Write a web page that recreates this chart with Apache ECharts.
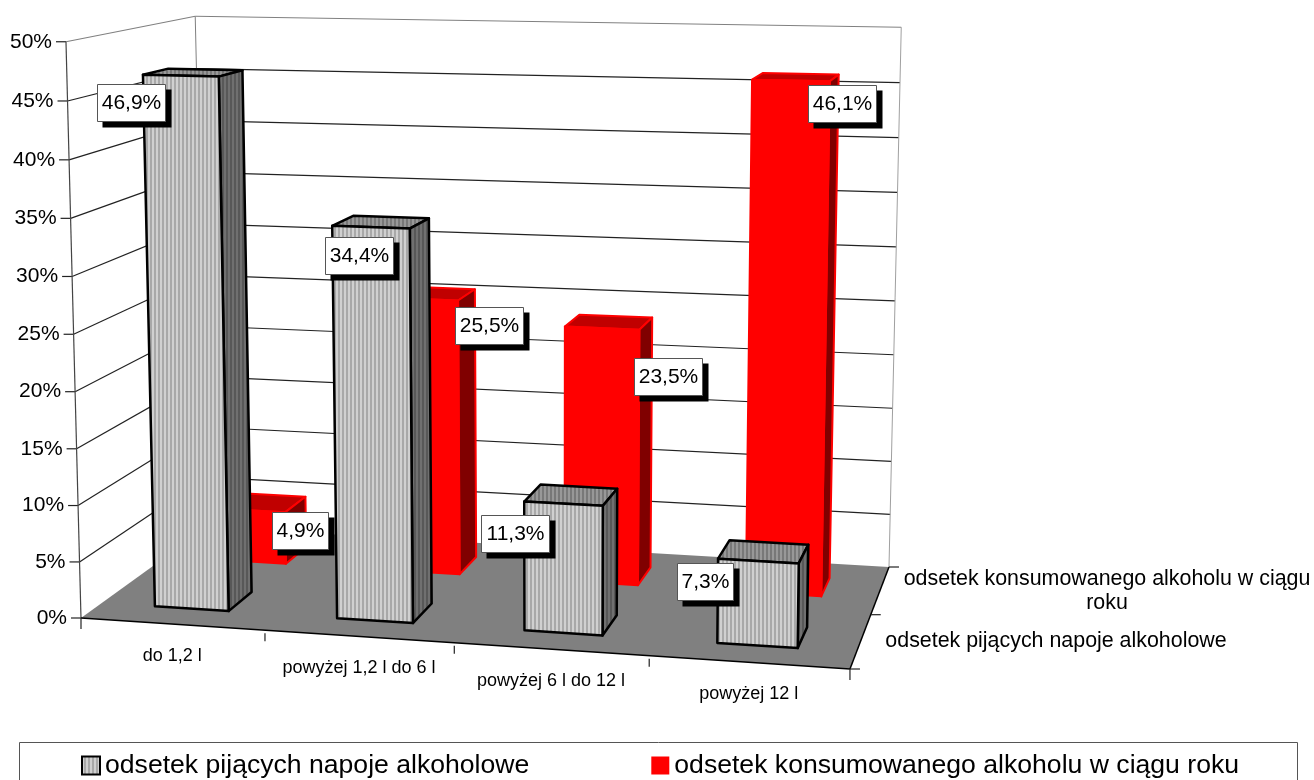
<!DOCTYPE html>
<html>
<head>
<meta charset="utf-8">
<style>
html, body { margin: 0; padding: 0; background: #fff; overflow: hidden; }
#main { width: 1314px; height: 780px; }
</style>
<script src="https://cdn.jsdelivr.net/npm/echarts@6/dist/echarts.min.js"></script>
</head>
<body>
<div id="main"></div>
<script>
var categories = ['do 1,2 l', 'powyżej 1,2 l do 6 l', 'powyżej 6 l do 12 l', 'powyżej 12 l'];
var seriesNames = ['odsetek pijących napoje alkoholowe', 'odsetek konsumowanego alkoholu w ciągu roku'];
var drinkers = [46.9, 34.4, 11.3, 7.3];
var consumed = [4.9, 25.5, 23.5, 46.1];
var yTicks = [0, 5, 10, 15, 20, 25, 30, 35, 40, 45, 50];

// hand placed data labels in the original, offset from the top of each bar
var drinkerLabelShift = [[-62.5, 30], [-22, 33], [-56, 38], [-58.6, 30]];
var consumedLabelShift = [[39, 28], [58.5, 32.5], [58.6, 54], [45.8, 26]];

var FONT = '"Liberation Sans", Arial, sans-serif';
var BAR_RATIO = 0.408;
var DEPTH = [[0.15, 0.343], [0.65, 0.843]];

// perspective of the 3d box: u along categories, w into the depth, h up
function pt(u, w, h) {
    var den = 1 - 0.05655 * u + 0.1308 * w - 0.03 * h;
    return [
        (720.9 * u + 153.1 * w - 17 * h + 81) / den + (5 * u - 2) * w * h,
        (13.17 * u - 22.07 * w - 577.5 * h + 618) / den - (0.5 + 2.5 * u) * w * h
    ];
}

function stripes(light, dark) {
    var c = document.createElement('canvas');
    c.width = 4;
    c.height = 4;
    var ctx = c.getContext('2d');
    ctx.fillStyle = light;
    ctx.fillRect(0, 0, 4, 4);
    ctx.fillStyle = dark;
    ctx.fillRect(2, 0, 2, 4);
    return { image: c, repeat: 'repeat' };
}

var frontFill = stripes('#d0d0d0', '#a8a8a8');
var topFill = stripes('#989898', '#787878');
var sideFill = stripes('#707070', '#585858');

function poly(points, style) {
    return { type: 'polygon', shape: { points: points }, style: style };
}

function line(a, b, color, width) {
    return {
        type: 'line',
        shape: { x1: a[0], y1: a[1], x2: b[0], y2: b[1] },
        style: { stroke: color, lineWidth: width || 1, fill: null }
    };
}

function text(str, x, y, size, align) {
    return {
        type: 'text',
        x: x,
        y: y,
        style: {
            text: str,
            fill: '#000',
            font: size + 'px ' + FONT,
            align: align || 'center',
            verticalAlign: 'middle',
            lineHeight: 24
        }
    };
}

function toBox(api, params, i, v) {
    var cs = params.coordSys;
    var p = api.coord([i, v]);
    return {
        u: (p[0] - cs.x) / cs.width,
        h: (cs.y + cs.height - p[1]) / cs.height,
        half: api.size([1, 0])[0] * BAR_RATIO / 2 / cs.width
    };
}

function renderFrame(params, api) {
    var kids = [];
    // white walls, then the floor
    kids.push(poly([pt(0, 0, 0), pt(0, 1, 0), pt(0, 1, 1), pt(0, 0, 1)], { fill: '#fff' }));
    kids.push(poly([pt(0, 1, 0), pt(1, 1, 0), pt(1, 1, 1), pt(0, 1, 1)], { fill: '#fff' }));

    yTicks.forEach(function (t) {
        var h = toBox(api, params, 0, t).h;
        var grey = t === 50 ? '#808080' : '#222';
        if (t > 0) {
            kids.push(line(pt(0, 0, h), pt(0, 1, h), grey, 1.2));
            kids.push(line(pt(0, 1, h), pt(1, 1, h), grey, 1.2));
        }
        var a = pt(0, 0, h);
        kids.push(line([a[0] - 10, a[1]], a, '#222', 1.2));
        kids.push(text(t + '%', a[0] - 14, a[1], 21, 'right'));
    });

    kids.push(poly([pt(0, 0, 0), pt(1, 0, 0), pt(1, 1, 0), pt(0, 1, 0)], { fill: '#808080' }));
    kids.push(line(pt(0, 1, 0), pt(0, 1, 1), '#808080'));
    kids.push(line(pt(1, 1, 0), pt(1, 1, 1), '#a0a0a0'));
    kids.push(line(pt(0, 0, 0), pt(0, 0, 1), '#444', 1.2));
    kids.push(line(pt(0, 0, 0), pt(1, 0, 0), '#000', 1.5));
    kids.push(line(pt(1, 0, 0), pt(1, 1, 0), '#000', 1.5));

    // category ticks and labels on the front edge
    for (var i = 0; i <= categories.length; i++) {
        var a = pt(i / categories.length, 0, 0);
        kids.push(line(i === 0 || i === categories.length ? a : [a[0], a[1] + 3], [a[0], a[1] + 11], '#222', 1.2));
    }
    categories.forEach(function (c, i) {
        var p = pt(toBox(api, params, i, 0).u, 0, 0);
        kids.push(text(c, p[0], p[1] + 32, 18));
    });

    // depth ticks and series names on the right edge
    [0, 0.5, 1].forEach(function (w) {
        var a = pt(1, w, 0);
        kids.push(line(a, [a[0] + 10, a[1]], '#222', 1.2));
    });
    kids.push(text(seriesNames[0], 1056, 641, 21.4));
    kids.push(text(seriesNames[1].replace(' roku', '\nroku'), 1107, 591, 21.4));
    return { type: 'group', children: kids };
}

function renderBar(d) {
    return function (params, api) {
        var b = toBox(api, params, api.value(0), api.value(1));
        var u0 = b.u - b.half, u1 = b.u + b.half, w0 = d.w[0], w1 = d.w[1], h = b.h;
        function face(points, fill) {
            return poly(points, { fill: fill, stroke: d.stroke, lineWidth: d.lineWidth, lineJoin: 'round' });
        }
        return {
            type: 'group',
            children: [
                face([pt(u0, w0, h), pt(u1, w0, h), pt(u1, w1, h), pt(u0, w1, h)], d.top),
                face([pt(u1, w0, 0), pt(u1, w1, 0), pt(u1, w1, h), pt(u1, w0, h)], d.side),
                face([pt(u0, w0, 0), pt(u1, w0, 0), pt(u1, w0, h), pt(u0, w0, h)], d.front)
            ]
        };
    };
}

function renderLabels(w, shift) {
    return function (params, api) {
        var i = api.value(0), v = api.value(1);
        var b = toBox(api, params, i, v);
        var p = pt(b.u, (w[0] + w[1]) / 2, b.h);
        var str = v.toFixed(1).replace('.', ',') + '%';
        var bw = str.length > 4 ? 68 : 56;
        var cx = p[0] + shift[i][0], cy = p[1] + shift[i][1];
        var x = Math.round(cx - bw / 2) + 0.5, y = Math.round(cy - 18.5) + 0.5;
        return {
            type: 'group',
            children: [
                { type: 'rect', shape: { x: x + 5, y: y + 5, width: bw + 1, height: 38 }, style: { fill: '#000' } },
                { type: 'rect', shape: { x: x, y: y, width: bw, height: 37 }, style: { fill: '#fff', stroke: '#555', lineWidth: 1 } },
                text(str, x + bw / 2, y + 19, 21)
            ]
        };
    };
}

function pairs(values) {
    return values.map(function (v, i) { return [i, v]; });
}

var myChart = echarts.init(document.getElementById('main'), null, { renderer: 'canvas' });

var option = {
    animation: false,
    backgroundColor: '#fff',
    grid: { left: 81, top: 43, width: 769, height: 575 },
    xAxis: { type: 'category', data: categories, show: false },
    yAxis: { type: 'value', min: 0, max: 50, interval: 5, show: false },
    legend: {
        left: 81,
        top: 752,
        padding: 0,
        itemWidth: 18,
        itemHeight: 18,
        itemGap: 122,
        icon: 'rect',
        textStyle: { fontFamily: FONT, fontSize: 26.6, color: '#000' },
        data: [
            { name: seriesNames[0], itemStyle: { color: frontFill, borderColor: '#000', borderWidth: 2 } },
            { name: seriesNames[1], itemStyle: { color: '#ff0000', borderWidth: 0 } }
        ]
    },
    graphic: [{
        type: 'rect',
        z: -1,
        shape: { x: 19.5, y: 742.5, width: 1278, height: 60 },
        style: { fill: '#fff', stroke: '#555', lineWidth: 1 }
    }],
    series: [
        {
            type: 'custom',
            name: 'frame',
            z: 1,
            renderItem: renderFrame,
            data: [[0, 0]],
            encode: { x: 0, y: 1 },
            silent: true
        },
        {
            type: 'custom',
            name: seriesNames[1],
            z: 2,
            itemStyle: { color: '#ff0000' },
            renderItem: renderBar({ w: DEPTH[1], front: '#ff0000', top: '#c00000', side: '#800000', stroke: '#ff0000', lineWidth: 2 }),
            data: pairs(consumed),
            encode: { x: 0, y: 1 }
        },
        {
            type: 'custom',
            name: seriesNames[0],
            z: 3,
            itemStyle: { color: '#c0c0c0' },
            renderItem: renderBar({ w: DEPTH[0], front: frontFill, top: topFill, side: sideFill, stroke: '#000', lineWidth: 2.5 }),
            data: pairs(drinkers),
            encode: { x: 0, y: 1 }
        },
        {
            type: 'custom',
            name: 'labels red',
            z: 4,
            renderItem: renderLabels(DEPTH[1], consumedLabelShift),
            data: pairs(consumed),
            encode: { x: 0, y: 1 }
        },
        {
            type: 'custom',
            name: 'labels grey',
            z: 5,
            renderItem: renderLabels(DEPTH[0], drinkerLabelShift),
            data: pairs(drinkers),
            encode: { x: 0, y: 1 }
        }
    ]
};
myChart.setOption(option);
</script>
</body>
</html>
